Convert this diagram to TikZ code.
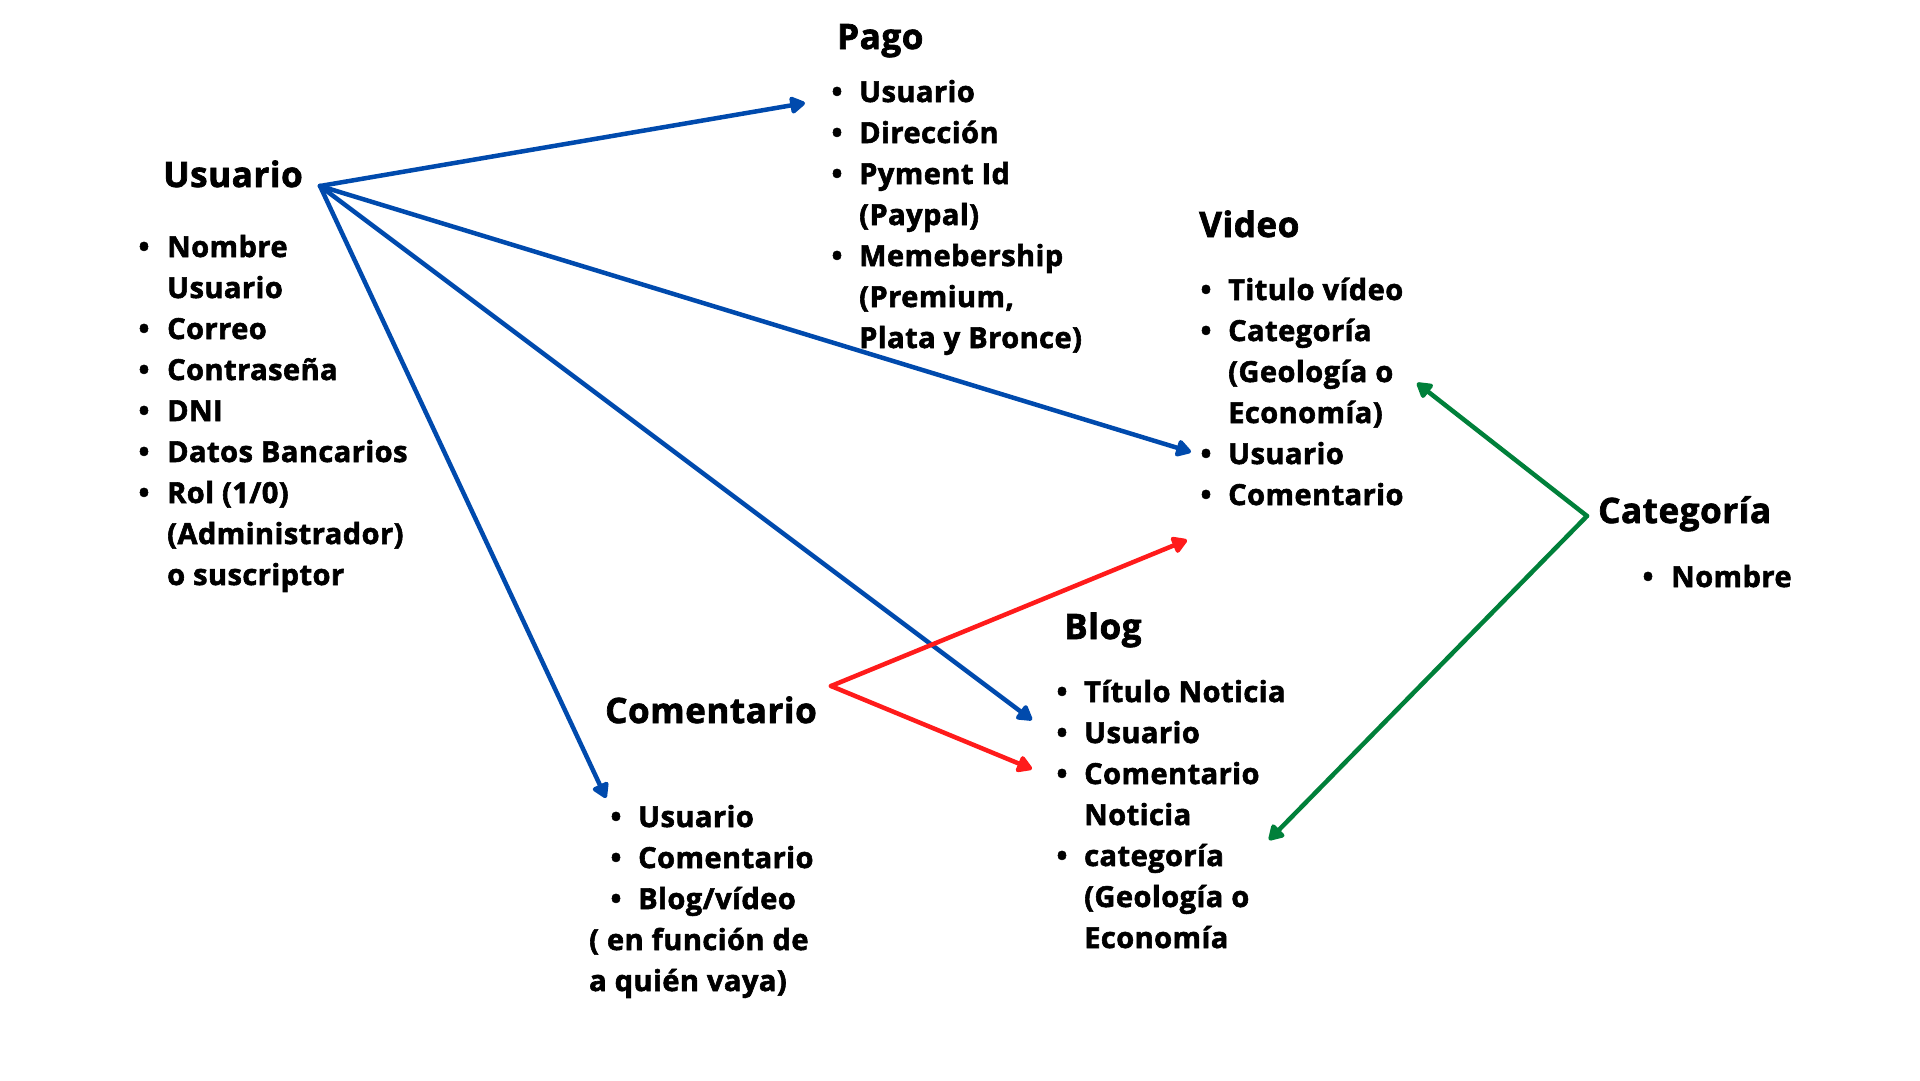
\documentclass[tikz,border=0pt]{standalone}
\usepackage{fontspec}
\setmainfont{Open Sans}[BoldFeatures={FakeBold=2, LetterSpace=1.6}]
\usetikzlibrary{arrows.meta}
\definecolor{cblue}{HTML}{004AAD}
\definecolor{cred}{HTML}{FF1B1B}
\definecolor{cgreen}{HTML}{00803A}
\newcommand{\lit}[5]{%
  \node[bul] (#1b) at (#2,#4) {•};
  \node[txt] (#1) at (#3,#4) {#5};}
\newcommand{\lct}[4]{\node[txt] (#1) at (#2,#3) {#4};}
\begin{document}
\begin{tikzpicture}[x=1pt,y=-1pt,
  txt/.style={font=\fontsize{29}{35}\selectfont\bfseries, inner sep=0pt, anchor=base west},
  ttl/.style={font=\fontsize{35}{42}\selectfont\bfseries, inner sep=0pt, anchor=base west},
  bul/.style={font=\fontsize{29}{35}\selectfont\bfseries, inner sep=0pt, anchor=base},
  link/.style={line width=4.5pt, -{Triangle[length=17pt,width=19pt,round]}, line join=round, line cap=round}]
\useasboundingbox[fill=white] (0,0) rectangle (1920,1080);

% Usuario
\node[ttl] (usuario) at (163,187) {Usuario};
\lit{u1}{144}{167}{257}{Nombre}
\lct{u1b2}{167}{298}{Usuario}
\lit{u2}{144}{167}{339}{Correo}
\lit{u3}{144}{167}{380}{Contraseña}
\lit{u4}{144}{167}{421}{DNI}
\lit{u5}{144}{167}{462}{Datos Bancarios}
\lit{u6}{144}{167}{503}{Rol (1/0)}
\lct{u6c}{167}{544}{(Administrador)}
\lct{u6d}{167}{585}{o suscriptor}

% Pago
\node[ttl] (pago) at (837,49) {Pago};
\lit{p1}{837}{859}{102}{Usuario}
\lit{p2}{837}{859}{143}{Dirección}
\lit{p3}{837}{859}{184}{Pyment Id}
\lct{p3c}{859}{225}{(Paypal)}
\lit{p4}{837}{859}{266}{Memebership}
\lct{p4c}{859}{307}{(Premium,}
\lct{p4d}{859}{348}{Plata y Bronce)}

% Video
\node[ttl] (video) at (1199,237) {Video};
\lit{v1}{1206}{1228}{300}{Titulo vídeo}
\lit{v2}{1206}{1228}{341}{Categoría}
\lct{v2c}{1228}{382}{(Geología o}
\lct{v2d}{1228}{423}{Economía)}
\lit{v3}{1206}{1228}{464}{Usuario}
\lit{v4}{1206}{1228}{505}{Comentario}

% Categoria
\node[ttl] (categoria) at (1598,523) {Categoría};
\lit{c1}{1648}{1671}{587}{Nombre}

% Blog
\node[ttl] (blog) at (1064,639) {Blog};
\lit{b1}{1062}{1084}{702}{Título Noticia}
\lit{b2}{1062}{1084}{743}{Usuario}
\lit{b3}{1062}{1084}{784}{Comentario}
\lct{b3c}{1084}{825}{Noticia}
\lit{b4}{1062}{1084}{866}{categoría}
\lct{b4c}{1084}{907}{(Geología o}
\lct{b4d}{1084}{948}{Economía}

% Comentario
\node[ttl] (comentario) at (605,723) {Comentario};
\lit{k1}{616}{638}{827}{Usuario}
\lit{k2}{616}{638}{868}{Comentario}
\lit{k3}{616}{638}{909}{Blog/vídeo}
\lct{k3c}{589}{950}{( en función de}
\lct{k3d}{589}{991}{a quién vaya)}

% connector points
\coordinate (uo) at (320,186);
\coordinate (tpago) at (805,103);
\coordinate (tvideo) at (1191,452);
\coordinate (tblog) at (1032,720);
\coordinate (tcom) at (606,798);
\coordinate (ro) at (831,686);
\coordinate (rvideo) at (1187,540);
\coordinate (rblog) at (1032,769);
\coordinate (go) at (1587,516);
\coordinate (gvideo) at (1417,383);
\coordinate (gblog) at (1269,840);

\draw[link, cblue] (uo) -- (tpago);
\draw[link, cblue] (uo) -- (tvideo);
\draw[link, cblue] (uo) -- (tblog);
\draw[link, cblue] (uo) -- (tcom);
\draw[link, cred] (ro) -- (rvideo);
\draw[link, cred] (ro) -- (rblog);
\draw[link, cgreen] (go) -- (gvideo);
\draw[link, cgreen] (go) -- (gblog);
\end{tikzpicture}
\end{document}
